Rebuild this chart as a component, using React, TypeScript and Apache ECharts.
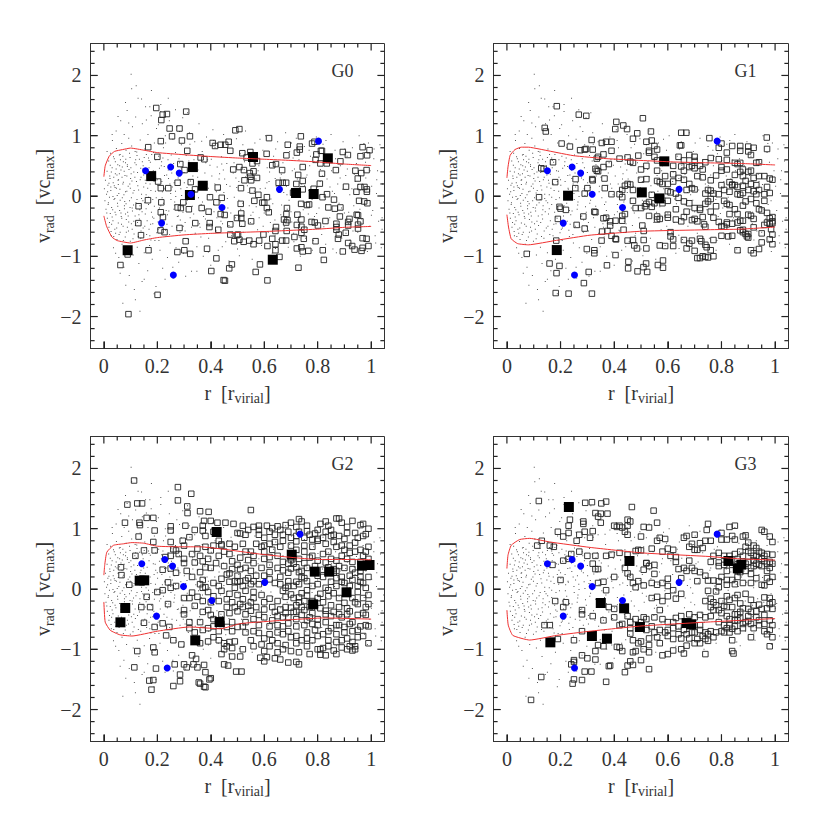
import React, { useEffect, useRef } from "react";
import * as echarts from "echarts";

type P = number[];
const panelNames = ["G0", "G1", "G2", "G3"];
const xMajor = [0, 0.2, 0.4, 0.6, 0.8, 1];
const xMinor = [0.05, 0.1, 0.15, 0.25, 0.3, 0.35, 0.45, 0.5, 0.55, 0.65, 0.7, 0.75, 0.85, 0.9, 0.95];
const yMajor = [-2, -1, 0, 1, 2];
const yMinor = [-2.4, -2.2, -1.8, -1.6, -1.4, -1.2, -0.8, -0.6, -0.4, -0.2, 0.2, 0.4, 0.6, 0.8, 1.2, 1.4, 1.6, 1.8, 2.2, 2.4];

const blue0: P[] = [[.156,.42],[.25,.48],[.282,.38],[.326,.03],[.442,-.19],[.216,-.45],[.26,-1.31],[.657,.11],[.803,.91]];
const blue1: P[] = [[.151,.42],[.243,.48],[.275,.38],[.318,.03],[.431,-.19],[.21,-.45],[.252,-1.31],[.642,.11],[.784,.91]];
const blue2: P[] = [[.142,.42],[.228,.49],[.257,.38],[.298,.04],[.404,-.19],[.197,-.45],[.237,-1.31],[.602,.11],[.734,.91]];
const blue3: P[] = [[.151,.42],[.243,.49],[.275,.38],[.318,.04],[.431,-.19],[.21,-.45],[.252,-1.31],[.642,.11],[.784,.91]];

const black0: P[] = [[.089,-.9],[.177,.33],[.333,.48],[.37,.17],[.322,.017],[.558,.647],[.632,-1.057],[.719,.05],[.785,.033],[.838,.625]];
const black1: P[] = [[.186,-.897],[.228,.005],[.503,.06],[.569,-.04],[.587,.575]];
const black2: P[] = [[.062,-.553],[.08,-.315],[.134,.138],[.151,.144],[.342,-.852],[.433,-.548],[.422,.946],[.703,.57],[.783,-.255],[.789,.288],[.843,.288],[.908,-.055],[.966,.387],[.994,.398]];
const black3: P[] = [[.162,-.885],[.231,1.36],[.35,-.232],[.437,-.32],[.457,.465],[.317,-.78],[.373,-.824],[.496,-.63],[.67,-.565],[.687,-.587],[.826,.465],[.861,.343],[.874,.404]];

const redUp0: P[] = [[0,.32],[.005,.5],[.02,.66],[.04,.74],[.07,.77],[.1,.795],[.15,.76],[.2,.72],[.3,.685],[.4,.655],[.5,.63],[.6,.61],[.7,.59],[.8,.565],[.9,.53],[1,.505]];
const redLo0: P[] = [[0,-.33],[.01,-.5],[.03,-.68],[.05,-.74],[.1,-.78],[.15,-.73],[.2,-.69],[.3,-.645],[.4,-.62],[.5,-.605],[.6,-.59],[.7,-.57],[.8,-.55],[.9,-.52],[1,-.505]];
const redUp1: P[] = [[0,.3],[.004,.48],[.012,.675],[.03,.77],[.054,.81],[.08,.81],[.12,.78],[.247,.67],[.37,.62],[.5,.59],[.62,.565],[.75,.55],[.87,.54],[1,.515]];
const redLo1: P[] = [[0,-.31],[.006,-.515],[.016,-.71],[.04,-.79],[.08,-.81],[.185,-.735],[.31,-.65],[.5,-.585],[.75,-.56],[.87,-.55],[1,-.515]];
const redUp2: P[] = [[0,.23],[.003,.39],[.011,.61],[.036,.725],[.074,.75],[.105,.77],[.149,.76],[.2,.71],[.286,.7],[.36,.7],[.448,.66],[.573,.585],[.7,.525],[.8,.49],[.885,.49],[1,.485]];
const redLo2: P[] = [[0,-.215],[.005,-.55],[.024,-.685],[.06,-.76],[.105,-.78],[.2,-.7],[.32,-.63],[.436,-.66],[.51,-.575],[.573,-.55],[.7,-.51],[.823,-.48],[1,-.5]];
const redUp3: P[] = [[0,.34],[.004,.56],[.016,.725],[.047,.82],[.085,.84],[.16,.78],[.31,.69],[.5,.6],[.62,.57],[.75,.54],[.87,.5],[1,.48]];
const redLo3: P[] = [[0,-.35],[.005,-.6],[.022,-.77],[.085,-.847],[.185,-.77],[.31,-.7],[.5,-.614],[.75,-.548],[1,-.49]];

const dots: P[] = [
[.002,.12],[.004,-.08],[.006,.26],[.008,-.22],[.01,.03],[.012,.41],[.013,-.37],[.015,.18],[.016,-.14],[.018,.58],[.019,-.52],[.021,-.02],[.022,.33],[.024,-.29],[.025,.71],[.026,.09],[.028,-.66],[.029,-.19],[.031,.47],[.032,.92],[.034,-.41],[.035,.22],[.036,-.86],[.038,-.06],[.039,.62],[.041,-.55],[.042,.14],[.043,.37],[.045,-.31],[.046,1.08],[.047,.79],[.049,-.72],[.05,.01],[.051,-.12],[.052,.52],[.054,-.45],[.055,.27],[.056,-1.02],[.058,.68],[.059,-.24],[.06,.11],[.061,-.6],[.063,1.25],[.064,.43],[.065,-.34],[.067,.87],[.068,-.8],[.069,-.03],[.071,.2],[.072,-.5],[.073,.57],[.075,-1.18],[.076,1.02],[.077,-.16],[.079,.34],[.08,-.68],[.081,.07],[.083,.76],[.084,-.39],[.085,-.92],[.087,1.42],[.088,.49],[.089,-.27],[.091,.16],[.092,-.58],[.093,.96],[.095,-1.32],[.096,-.08],[.098,.64],[.099,-.75],[.1,.29],[.102,2.02],[.103,-.46],[.104,.83],[.106,-.2],[.107,1.15],[.109,.05],[.11,-.98],[.112,.4],[.113,-.63],[.114,-1.55],[.116,.55],[.117,-.33],[.119,1.31],[.12,-.11],[.122,.24],[.123,.73],[.125,-.85],[.126,-.44],[.128,1.62],[.13,.1],[.131,-1.12],[.133,.61],[.134,-.23],[.136,.93],[.138,-.7],[.139,.31],[.141,-.04],[.143,-1.42],[.144,1.2],[.146,.45],[.147,-.53],[.149,.15],[.151,-.94],[.153,.78],[.155,-.3],[.156,1.48],[.158,.02],[.16,-.64],[.162,.36],[.164,-1.24],[.165,1.02],[.167,-.14],[.169,.59],[.171,-.82],[.173,.2],[.175,-.47],[.177,1.33],[.179,.69],[.181,-1.05],[.183,-.06],[.185,.42],[.187,-.37],[.189,.88],[.191,-.74],[.193,.08],[.195,-1.5],[.197,1.12],[.2,.27],[.203,-.55],[.205,.66],[.208,-.2],[.21,-.9],[.213,1.4],[.215,.5],[.218,-.03],[.22,-1.2],[.223,.8],[.225,-.42],[.228,.13],[.23,1],[.233,-.67],[.235,.35],[.238,-1.02],[.24,.6],[.243,-.25],[.245,1.25],[.248,-.78],[.25,.04],[.253,.46],[.255,-.5],[.258,.94],[.26,-1.36],[.263,.22],[.265,-.1],[.268,.72],[.27,-.86],[.273,1.15],[.275,-.34],[.278,.3],[.28,-1.1],[.283,.55],[.285,-.6],[.288,.12],[.29,.85],[.293,-.18],[.295,1.3],[.298,-.95],[.3,.39],[.304,-.44],[.308,.67],[.312,-.07],[.316,-.72],[.32,1.05],[.324,.25],[.328,-1.25],[.332,.52],[.336,-.3],[.34,.9],[.344,.07],[.348,-.84],[.352,.43],[.356,1.2],[.36,-.52],[.364,-.14],[.368,.74],[.372,-1],[.376,.18],[.38,-.38],[.384,.98],[.388,.6],[.392,-.7],[.396,.02],[.4,-1.15],[.404,.33],[.408,1.1],[.412,-.26],[.416,.8],[.42,-.58],[.424,.48],[.428,-.9],[.432,.1],[.436,-.1],[.44,.65],[.444,-.46],[.448,1.02],[.452,.28],[.456,-.76],[.46,.54],[.464,-.2],[.468,-1.08],[.472,.16],[.476,.86],[.48,-.62],[.484,.38],[.488,-.02],[.492,-.36],[.496,.95],[.5,-.88],[.505,.24],[.51,.7],[.515,-.5],[.52,-.12],[.525,.44],[.53,1.08],[.535,-.7],[.54,.06],[.545,.62],[.55,-.32],[.555,-1.05],[.56,.34],[.565,.88],[.57,-.18],[.575,-.56],[.58,.5],[.585,.12],[.59,-.82],[.595,.76],[.6,-.28],[.605,1],[.61,.22],[.615,-.6],[.62,.4],[.625,-.05],[.63,-.95],[.635,.66],[.64,-.4],[.645,.16],[.65,.9],[.655,-.72],[.66,.3],[.665,-.15],[.67,.55],[.675,-.5],[.68,1.05],[.685,.02],[.69,-.85],[.695,.74],[.7,-.26],[.705,.42],[.71,-.62],[.715,.1],[.72,.96],[.725,-.4],[.73,.6],[.735,-1],[.74,.2],[.745,-.1],[.75,.82],[.755,-.7],[.76,.35],[.765,-.3],[.77,.5],[.775,.05],[.78,-.9],[.785,.7],[.79,-.48],[.795,.98],[.8,.15],[.805,-.2],[.81,.44],[.815,-.64],[.82,.86],[.825,-.02],[.83,-.8],[.835,.28],[.84,.6],[.845,-.36],[.85,1.02],[.855,.08],[.86,-.55],[.865,.76],[.87,-.94],[.875,.2],[.88,-.12],[.885,.5],[.89,-.7],[.895,.9],[.9,-.28],[.905,.34],[.91,.66],[.915,-.46],[.92,.02],[.925,-.85],[.93,.8],[.935,-.16],[.94,.24],[.945,.54],[.95,-.6],[.955,1],[.96,.1],[.965,-.38],[.97,.72],[.975,-.75],[.98,.3],[.985,-.08],[.99,.88],[.995,-.5],[1.002,.16],[1.006,-.24],[1.01,.62],[1.015,-.66],[1.02,.04],[1.024,.42],[1.028,-.42],[1.033,.85],[1.038,-.86],[1.043,.2],[1.047,-.1]
];

const dotsExtra: P[] = [
[.037,.31],[.083,-.13],[.014,.07],[.121,.52],[.067,-.37],[.158,-.21],[.029,-.47],[.094,.44],[.047,.13],[.176,.09],[.011,-.28],[.139,-.58],[.058,.37],[.103,-.03],[.024,.51],[.192,.41],[.073,.23],[.044,-.62],[.127,.17],[.088,-.52],[.017,-.11],[.211,-.33],[.062,.6],[.149,.35],[.033,-.23],[.109,-.71],[.054,.19],[.167,.63],[.078,-.09],[.023,.29],[.183,-.46],[.096,.71],[.041,-.04],[.133,-.38],[.069,.48],[.152,-.11],[.027,-.59],[.116,.31],[.052,-.17],[.201,.18],[.086,.08],[.036,.65],[.172,-.66],[.064,-.28],[.124,.67],[.019,.21],[.107,-.25],[.046,.45],[.223,-.12],[.081,.55],[.141,.03],[.031,-.35],[.188,.24],[.057,-.64],[.099,.13],[.162,-.41],[.071,.66],[.242,.29],[.039,.17],[.118,-.49],[.086,.33],[.216,.57],[.021,-.44],[.147,.5],[.061,-.07],[.178,-.27],[.102,.37],[.048,-.53],[.231,-.57],[.075,.02],[.135,-.16],[.028,.4],[.196,-.03],[.091,-.33],[.256,.15],[.155,.26],[.043,.57],[.113,.09],[.206,-.74],[.066,-.47],[.169,.47],[.034,-.01],[.129,-.67],[.082,.61],[.262,-.22],[.053,.26],[.186,.72],[.106,-.55],[.241,.43],[.143,-.26],[.026,.15],[.077,-.21],[.219,.07],[.164,.13],[.097,.2],[.059,.5],[.277,.35],[.126,.39],[.042,-.27],[.198,-.61],[.084,-.6],[.251,-.06],[.153,-.5],[.111,-.15],[.068,.31],[.227,.34],[.037,-.67],[.174,.56],[.286,-.4],[.093,-.43],[.136,.27],[.056,.04],[.208,.46],[.119,.6],[.268,.08],[.081,-.3],[.159,.69],[.238,-.31],[.049,.35],[.189,-.17],[.101,.47],[.301,.22],[.146,-.08],[.073,-.74],[.221,.63],[.131,-.31],[.296,-.27],[.169,-.55],[.061,.69],[.247,.2],[.112,-.42],[.281,.62],[.194,.31],[.088,.52],[.331,-.17],[.157,.21],[.236,-.47],[.124,-.06],[.311,.14],[.076,.41],[.213,-.16],[.272,-.52],[.144,.57],[.351,.31],[.182,-.35],[.261,.54],[.098,-.19],[.323,-.36],[.229,.11],[.167,-.02],[.291,.01],[.117,.74],[.369,-.1],[.203,-.43],[.252,.68],[.138,.46],[.344,.47],[.304,-.58],[.217,.24],[.176,-.73],[.386,.2],[.264,-.15],[.105,.25],[.337,.6],[.233,-.24],[.151,.64],[.401,-.31],[.285,.27],[.194,.6],[.358,-.46],[.246,-.64],[.318,.58],[.421,.07],[.279,-.33],[.378,.38],[.207,-.53],[.438,-.42],[.306,.09],[.254,.38],[.397,.51],[.342,-.62],[.459,.19],[.226,.49],[.371,-.24],[.297,-.5],[.418,-.57],[.475,-.28],[.333,.33],[.269,-.01],[.391,.13],[.447,.43],[.309,-.12],[.354,-.03],[.494,.3],[.412,-.14],[.363,-.68],[.289,.47],[.431,.28],[.512,-.22],[.381,.55],[.328,-.52],[.468,-.49],[.402,.61],[.531,.32],[.449,.06],[.345,.16],[.548,-.44],[.423,-.36],[.487,.55],[.373,-.34],[.563,.08],[.441,.53],[.505,-.07],[.394,-.49],[.581,-.36],[.462,-.04],[.526,.57],[.415,.2],[.604,.13],[.478,-.66],[.544,-.16],[.433,.37],[.623,-.44],[.497,.14],[.569,.28],[.641,.29],[.521,-.6],[.589,-.03],[.662,-.31],[.537,.17],[.611,.47],[.683,.16],[.558,-.27],[.632,-.13],[.703,-.43],[.577,.42],[.652,.51],[.724,.28],[.596,-.5],[.673,.06],[.746,-.23],[.618,.24],[.693,-.07],[.767,.09],[.641,-.65],[.713,.45],[.788,-.34],[.664,.36],[.736,-.55],[.809,.24],[.686,-.22],[.757,.31],[.831,-.14],[.708,.63],[.779,-.06],[.852,.42],[.731,-.68],[.801,.59],[.873,-.45],[.751,.17],[.823,-.51],[.894,.11],[.773,.66],[.846,.15],[.916,-.27],[.796,-.29],[.867,.62],[.937,.36],[.818,.33],[.889,-.2],[.958,-.22],[.841,-.4],[.911,.45],[.979,.56],[.863,.04],[.932,-.58],[1.001,-.32],[.884,.3],[.953,.19],[1.021,.27],[.906,-.62],[.974,-.14],[1.041,-.36],[.928,.12],[.996,.42],
[.012,.74],[.031,1.02],[.053,1.32],[.081,1.55],[.061,-1.28],[.104,1.78],[.141,1.61],[.172,1.48],[.213,1.52],[.241,1.62],[.268,1.43],[.313,1.38],[.044,-.95],[.082,-1.48],[.118,-1.72],[.151,-1.38],[.188,-1.62],[.229,-1.38],[.258,-1.18],[.306,-1.33],[.348,-1.25],[.071,-1.78],[.135,-1.91],[.121,1.83],[.178,1.75],[.093,1.21],[.159,1.26],[.204,1.18],[.231,.88],[.283,1.07],[.322,.86],[.366,.91],[.411,.92],[.463,.8],[.52,.85],[.584,.94],[.643,.78],[.702,.88],[.768,.76],[.831,.92],[.902,.78],[.973,.87],[1.011,.78],[1.035,.58],[.391,-.93],[.443,-.84],[.507,-.99],[.573,-.77],[.642,-.87],[.711,-.76],[.783,-.74],[.857,-.88],[.921,-.73],[.986,-.92],[1.017,-.78],[1.041,-.55]
];

const sq0: P[] = [
[.196,1.46],[.22,1.35],[.236,1.36],[.215,1.26],[.308,1.4],[.246,1.12],[.283,1.12],[.255,.99],[.213,.91],[.292,.92],[.322,.99],[.166,.81],[.312,.75],[.2,.65],[.362,.64],[.376,.61],[.286,.53],[.302,.43],[.276,.22],[.325,.23],[.203,.24],[.213,.13],[.241,.13],[.341,.11],[.165,-.07],[.13,-.17],[.215,-.105],[.213,-.27],[.221,-.35],[.129,-.45],[.139,-.65],[.212,-.57],[.227,-.6],[.283,-.53],[.276,-.19],[.288,-.2],[.297,-.105],[.318,-.22],[.366,-.2],[.392,-.26],[.397,-.02],[.426,.14],[.441,-.03],[.421,-.105],[.437,-.3],[.452,-.315],[.342,-.45],[.396,-.45],[.395,-.515],[.428,-.56],[.473,-.47],[.306,-.75],[.386,-.875],[.275,-.93],[.301,-.9],[.323,-.96],[.421,-1.035],[.062,-1.145],[.089,-.97],[.167,-.9],[.402,-1.245],[.469,-1.2],[.479,-1.135],[.448,-1.395],[.453,-1.405],[.201,-1.64],[.092,-1.96],
[.407,.88],[.416,.83],[.437,.85],[.454,.85],[.467,.9],[.473,.75],[.492,1.09],[.507,1.11],[.518,.71],[.534,.64],[.548,.73],[.556,.54],[.573,.58],[.484,.44],[.507,.48],[.524,.43],[.546,.38],[.548,.32],[.56,.41],[.526,.26],[.551,.26],[.573,.3],[.513,.13],[.556,.09],[.578,.02],[.563,-.08],[.512,-.13],[.593,-.11],[.6,-.11],[.61,-.02],[.61,-.2],[.617,-.27],[.514,-.29],[.514,-.365],[.498,-.365],[.518,-.46],[.551,-.42],[.473,-.64],[.498,-.65],[.502,-.64],[.507,-.725],[.488,-.75],[.523,-.76],[.544,-.74],[.56,-.8],[.581,-.74],[.597,-.64],[.609,.7],[.618,.96],[.63,.51],[.644,.53],[.667,.43],[.654,.22],[.669,.22],[.682,.22],[.683,.675],[.688,.85],[.722,.72],[.733,.82],[.733,.77],[.737,.99],[.779,.87],[.788,.9],[.744,.48],[.727,.35],[.72,.2],[.744,.25],[.744,.11],[.76,-.15],[.738,-.13],[.685,-.2],[.683,-.3],[.674,-.39],[.687,-.4],[.724,-.31],[.739,-.39],[.722,-.48],[.739,-.51],[.75,-.56],[.739,-.61],[.682,-.44],[.684,-.58],[.642,-.58],[.644,-.515],[.63,-.71],[.667,-.74],[.682,-.74],[.713,-.68],[.748,-.71],[.792,-.75],[.612,-.83],[.642,-.8],[.642,-.9],[.657,-1.01],[.584,-1.135],[.568,-1.26],[.612,-1.4],[.722,-.87],[.739,-.85],[.744,-.92],[.765,-.91],[.728,-1.19],[.819,-.9],[.823,-1.06],[.777,-.43],[.789,-.44],[.801,-.49],[.829,-.415],[.87,-.46],[.87,-.515],[.87,-.56],[.879,-.64],[.876,-.71],[.905,-.61],[.914,-.43],[.914,-.49],[.946,-.31],[.951,-.32],[.951,-.475],[.951,-.54],[.96,-.42],[.914,-.78],[.929,-.83],[.938,-.89],[.894,-.92],[.964,-.91],[.968,-.86],[.968,-.7],[.983,-.71],[.99,-.83],[.885,-.19],[.883,-.34],[.864,-.21],[.861,-.06],[.84,-.19],[.818,-.02],[.835,.03],[.808,.205],[.816,.37],[.834,.54],[.868,.43],[.885,.575],[.894,.73],[.913,.68],[.96,.66],[.985,.675],[.994,.76],[.968,.81],[.941,.42],[.963,.38],[.983,.43],[.95,.29],[.906,.155],[.945,.07],[.96,.15],[.975,.15],[.984,.11],[.984,.07],[.955,-.08],[.974,-.09],[.986,-.12],[.919,-.38],[.795,.69],[.816,.75],[.812,.75],[.792,.6],[.81,.54],[.708,.055],[.724,.05],[.785,.12],[.768,-.14]
];

const sq1: P[] = [
[.186,1.49],[.268,1.35],[.296,1.33],[.141,1.13],[.145,1.07],[.204,.87],[.235,.82],[.408,1.23],[.404,1.11],[.434,1.17],[.448,1.11],[.507,1.29],[.486,1.04],[.537,1.07],[.65,1.05],[.669,1.05],[.755,.96],[.969,.97],[.074,-.96],[.159,-1.12],[.196,-1.16],[.185,-1.28],[.287,-1.445],[.182,-1.61],[.23,-1.62],[.317,-1.62],[.305,-1.26],[.373,-1.15],[.453,-1.09],[.452,-1.2],[.487,-1.25],[.509,-1.18],[.519,-1.12],[.523,-1.26],[.563,-1.145],[.582,-1.07],[.582,-1.19],
[.128,.46],[.137,.45],[.172,.56],[.18,.23],[.12,-.02],[.196,-.18],[.2,-.21],[.22,-.23],[.19,-.38],[.184,-.74],[.256,.28],[.255,.13],[.29,.04],[.3,.13],[.318,.28],[.32,.26],[.34,.65],[.32,.77],[.316,.93],[.273,.76],[.29,.77],[.295,.78],[.354,.88],[.37,.9],[.39,.9],[.39,.75],[.36,.69],[.335,.62],[.33,.45],[.335,.42],[.34,.41],[.36,.48],[.38,.53],[.364,.29],[.365,.13],[.39,.03],[.43,.1],[.44,.17],[.45,.2],[.46,.19],[.43,-.02],[.42,.03],[.326,-.26],[.33,-.27],[.285,-.34],[.29,-.54],[.26,-.48],[.36,-.37],[.37,-.36],[.385,-.42],[.385,-.49],[.405,-.41],[.43,-.41],[.43,-.33],[.44,-.3],[.435,-.56],[.355,-.59],[.353,-.74],[.375,-.58],[.39,-.66],[.405,-.71],[.407,-.72],[.298,-.88],[.326,-.9],[.326,-.95],[.405,-.98],[.45,-.74],[.47,-.73],[.475,-.82],[.485,-.87],[.52,-.87],[.51,-.58],[.51,-.73],[.505,-.49],
[.42,.62],[.45,.64],[.46,.57],[.47,.55],[.49,.67],[.47,.95],[.52,.9],[.54,.92],[.55,.83],[.53,.75],[.53,.72],[.56,.77],[.55,.65],[.56,.59],[.52,.5],[.5,.44],[.56,.42],[.58,.57],[.52,.28],[.56,.25],[.57,.23],[.58,.2],[.6,.2],[.62,.24],[.47,-.08],[.5,-.2],[.48,-.2],[.515,-.17],[.52,-.13],[.53,-.1],[.54,-.18],[.55,-.12],[.53,-.33],[.56,-.34],[.56,-.39],[.57,-.38],[.6,-.31],[.6,-.36],[.63,-.39],[.65,-.42],[.65,.49],[.64,.3],[.66,.27],[.62,.5],[.65,.84],[.645,.84],[.68,.68],[.7,.65],[.69,.5],[.68,.48],[.7,.46],[.72,.5],[.74,.56],[.73,.44],[.71,.33],[.73,.31],[.68,.2],[.69,.13],[.7,.11],[.67,.1],[.6,.08],[.61,.06],[.63,.04],[.64,-.03],[.66,-.09],[.68,-.12],[.67,-.26],[.7,-.2],[.72,-.2],[.74,-.13],[.75,-.09],[.76,-.05],[.75,.1],[.76,.09],[.74,.04],[.77,.04],[.79,.03],[.72,-.23],[.69,-.4],[.7,-.38],[.71,-.42],[.735,-.47],[.74,-.51],[.77,-.36],[.79,-.43],[.8,-.5],[.81,-.51],
[.61,-.6],[.61,-.67],[.62,-.72],[.66,-.73],[.62,-.83],[.57,-.82],[.59,-.83],[.68,-.79],[.67,-.87],[.69,-.74],[.72,-.71],[.725,-.75],[.74,-.81],[.745,-.85],[.7,-.91],[.71,-1.03],[.72,-1.03],[.73,-1],[.74,-1.01],[.75,-1.02],[.77,-1],[.76,-.9],[.77,-.73],[.8,-.66],[.825,-.67],[.84,-.66],[.86,-.9],[.91,-.9],[.92,-.95],[.94,-.88],[.95,-.77],[.99,-.8],[.98,-.72],[.95,-.62],[.99,-.64],
[.79,.61],[.82,.6],[.85,.55],[.86,.53],[.87,.55],[.8,.48],[.8,.42],[.82,.44],[.85,.35],[.87,.4],[.88,.44],[.9,.4],[.91,.42],[.88,.33],[.89,.25],[.91,.2],[.93,.18],[.83,.23],[.84,.19],[.85,.18],[.86,.03],[.87,.02],[.88,.05],[.89,-.09],[.92,.08],[.93,.03],[.96,.03],[.98,.05],[.97,.15],[.98,.29],[.99,.27],[.96,.33],[.94,.56],[.93,.55],[.92,.8],[.9,.82],[.87,.83],[.84,.83],[.8,.87],[.79,.8],[.97,.78],[.9,.74],[.91,.68],[.84,.18],[.81,-.08],[.82,-.13],[.83,-.15],[.85,-.22],[.86,-.3],[.88,-.16],[.9,-.31],[.91,-.33],[.92,-.38],[.94,-.22],[.95,-.24],[.97,-.28],[.99,-.35],[.98,-.37],[.99,-.42],[.98,-.46],[.97,-.44],[.99,-.45],[.96,-.48],[.985,-.55],[.92,-.52],[.88,-.41],[.87,-.41],[.86,-.44],[.84,-.46],[.82,-.47],[.88,-.56],[.88,-.6],[.89,-.63],[.9,-.63],[.9,-.69],[.895,-.67],[.87,-.57],[.82,-.44],[.83,-.3],
[.47,.1],[.54,.02],[.5,.27],[.59,.33],[.62,.36],[.66,.42],[.76,.26],[.78,.34],[.8,.18],[.81,.1],[.83,.07],[.9,.1],[.94,.1],[.96,-.08],[.93,-.12],[.91,-.05],[.78,-.17],[.76,-.26],[.73,-.35],[.66,-.35],[.63,-.22],[.6,-.08],[.58,-.12],[.56,-.05],[.86,.15],[.88,.17],[.94,.33],[.92,.3],[.87,.75],[.82,.72],[.76,.63],[.7,.58],[.66,.59],[.64,.65]
];

const sq2: P[] = [
[.113,1.8],[.277,1.69],[.327,1.58],[.277,1.47],[.088,1.4],[.125,1.42],[.143,1.42],[.312,1.37],[.313,1.26],[.079,1.1],[.133,1.1],[.135,1.06],[.16,1.18],[.185,1.18],[.36,1.29],[.392,1.28],[.55,1.31],[.13,.87],[.19,.97],[.25,.97],[.25,1.04],[.305,1.05],[.375,1.13],[.4,1.13],[.425,1.1],[.455,1.1],[.485,1.08],[.37,1.05],[.37,.97],[.295,.8],[.32,.86],[.25,.78],[.185,.78],[.19,.64],[.15,.64],[.118,.55],[.064,.36],[.066,.23],[.095,.07],[.2,-.05],[.16,-.13],[.14,-.3],[.173,-.3],[.15,-.56],[.19,-.63],[.22,-.57],[.245,-.63],[.233,-.77],[.26,-.85],[.29,-.92],[.185,-.97],[.125,-1.03],[.19,-1.05],[.195,-1.32],[.114,-1.3],[.17,-1.52],[.185,-1.51],[.178,-1.67],[.26,-1.61],[.285,-1.53],[.285,-1.42],[.31,-1.3],[.3,-1.25],[.265,-1.25],[.335,-1.25],[.33,-1.1],[.345,-1.16],[.35,-1.3],[.375,-1.26],[.38,-1.38],[.355,-1.55],[.36,-1.57],[.375,-1.62],[.38,-1.63],[.395,-1.5],[.4,-1.48],[.45,-1.25],[.465,-1.27],[.495,-1.37],[.515,-1.37],[.48,-1.12],[.44,-1.08],[.51,-1.12],[.585,-1.14],[.61,-1.13],[.64,-1.15],[.6,-1.2],[.66,-1.17],[.69,-1.22],[.72,-1.21],[.73,-1.25],[.73,-1.05],[.77,-1.08],[.8,-1],[.82,-.98],[.81,-1],[.81,-1.09],[.83,-1.1],[.87,-1.08],[.89,-.97],[.91,-1],[.93,-1.02],[.94,-.95],[.94,-1],
[.23,.53],[.22,.32],[.25,.34],[.25,.55],[.27,.64],[.26,.66],[.3,.5],[.3,.43],[.34,.44],[.31,.3],[.27,.27],[.24,.11],[.27,.05],[.25,.02],[.22,-.02],[.24,-.25],[.3,-.15],[.32,-.15],[.3,-.35],[.33,-.06],[.35,-.13],[.37,.02],[.38,.03],[.37,.15],[.36,.28],[.4,.35],[.38,.36],[.39,.5],[.42,.43],[.36,.55],[.35,.67],[.4,.64],[.44,.72],[.44,.74],[.47,.58],[.48,.46],[.5,.4],[.47,.26],[.47,.12],[.49,.13],[.5,.12],[.51,.13],[.53,.14],[.55,.3],[.56,.43],[.6,.5],[.62,.53],[.55,.62],[.57,.75],[.58,.9],[.6,.85],[.56,1.03],[.58,1.05],[.61,1.05],[.65,1.04],[.68,1.06],[.7,1.1],[.74,1.12],[.73,1.16],[.76,1.05],[.72,1.03],[.63,1.01],[.52,1.05],[.5,.93],[.51,.92],[.53,.9],[.64,.9],[.67,.8],[.62,.75],[.7,.72],[.72,.79],[.75,.72],[.78,.7],[.8,.83],[.8,.8],[.83,.75],[.85,.88],[.84,1.05],[.87,1.17],[.88,1.17],[.89,1.1],[.91,1.03],[.93,1.13],[.96,1.06],[.97,1.08],[.99,1],[.98,.91],[.97,.88],[.99,.7],[.96,.65],[.92,.72],[.9,.83],[.88,.88],[.86,.9],[.83,1.12],[.81,1.08],[.95,.85],[.94,.77],
[.3,-.42],[.32,-.55],[.36,-.55],[.37,-.38],[.39,-.35],[.4,-.43],[.41,-.62],[.39,-.65],[.41,-.8],[.39,-.87],[.36,-.9],[.45,-.9],[.46,-.95],[.47,-.88],[.49,-.87],[.43,-.7],[.48,-.7],[.53,-.72],[.55,-.85],[.58,-.73],[.6,-.82],[.62,-.95],[.65,-.9],[.67,-1],[.7,-1.03],[.72,-.9],[.7,-.8],[.67,-.75],[.74,-.85],[.78,-.85],[.84,-.85],[.87,-.88],[.89,-.85],[.91,-.82],[.76,-.72],[.79,-.68],[.82,-.75],[.85,-.65],[.88,-.6],[.9,-.63],[.92,-.58],[.96,-.62],[.98,-.6],[.99,-.62],[.97,-.78],[.99,-.9],[.95,-.68],[.93,-.55],[.95,-.43],[.98,-.43],[.98,-.3],[.95,-.25],[.92,-.37],[.89,-.47],[.86,-.38],[.83,-.42],[.8,-.5],[.77,-.47],[.74,-.43],[.72,-.5],[.69,-.57],[.65,-.6],[.62,-.62],[.67,-.47],[.7,-.31],[.73,-.22],[.75,-.2],[.77,-.3],[.72,-.27],[.68,-.3],[.64,-.38],[.6,-.34],[.57,-.3],[.55,-.22],[.52,-.17],[.5,-.1],[.47,-.08],[.44,-.03],[.43,.05],[.41,.1],[.44,.17],[.46,.24],[.49,.02],[.52,-.3],[.55,-.36],[.58,-.43],[.6,-.47],[.63,-.52],[.53,-.55],[.5,-.63],[.46,-.63],[.44,-.42],[.47,-.4],[.5,-.37],
[.54,.18],[.56,.13],[.58,.08],[.6,.22],[.62,.16],[.64,.1],[.66,.08],[.68,.02],[.66,.2],[.69,.27],[.67,.31],[.7,.34],[.72,.36],[.74,.2],[.76,.13],[.73,.08],[.71,.05],[.69,.13],[.65,.35],[.62,.28],[.67,.45],[.7,.48],[.73,.5],[.75,.43],[.77,.52],[.8,.47],[.83,.44],[.85,.5],[.87,.47],[.89,.55],[.91,.5],[.93,.45],[.88,.38],[.86,.33],[.82,.2],[.85,.12],[.8,.08],[.78,.05],[.76,-.02],[.74,-.07],[.71,-.15],[.68,-.13],[.65,-.2],[.62,-.16],[.59,-.1],[.56,-.05],[.53,-.03],[.83,.02],[.86,-.07],[.88,-.15],[.9,-.23],[.93,-.15],[.95,.05],[.97,.1],[.99,.2],[.96,.2],[.93,.15],[.9,.1],[.87,.18],[.84,-.12],[.8,-.15],[.82,-.22],[.85,-.27],[.88,-.3],[.91,-.32],[.78,.55],[.75,.62],[.72,.65],[.7,.85],[.77,.9],[.79,.92],[.83,.95],[.87,.7],[.9,.65],[.94,.62],[.97,.55],[.99,.5],[.96,.3],[.94,.27],[.92,.22],[.89,.2],[.86,.27],[.82,.32],[.79,.38],[.76,.35],[.74,.3],[.84,.62],[.82,.58],[.69,.42],[.65,.55],[.62,.4],[.59,.35],[.57,.22],[.55,.08],[.52,.05],[.5,.22],[.53,.35],[.51,.52],[.47,.75],[.49,.7],[.53,.62],[.59,.7],[.6,.62],[.63,.65],[.66,.7],[.69,.95],[.66,.98],[.73,.95],[.91,.93],[.94,.93],[.75,-.35],[.78,-.4],[.81,-.32],[.83,-.55],[.87,-.6],[.72,-.62],[.75,-.6],[.78,-.58],[.67,-.62],[.62,-.75],[.58,-.6],[.56,-.5],[.53,-.42],[.49,-.3],[.46,-.17],[.43,-.2],[.4,-.22],[.37,-.2],[.34,-.28],[.32,-.65],
[.71,.42],[.73,.28],[.75,.18],[.72,.12],[.69,.05],[.67,-.03],[.7,-.09],[.73,-.14],[.76,-.11],[.78,-.2],[.74,-.3],[.71,-.38],[.68,-.4],[.66,-.34],[.81,-.08],[.84,-.02],[.87,.05],[.89,.12],[.92,.05],[.95,-.05],[.97,-.15],[.99,-.1],[.98,.02],[.94,-.22],[.91,-.42],[.88,-.42],[.85,-.45],[.83,-.36],[.79,-.27],[.8,.22],[.84,.36],[.87,.3],[.9,.35],[.93,.33],[.96,.12],[.92,.6],[.89,.72],[.86,.78],[.82,.85],[.78,.82],[.75,.85],[.72,.88],[.67,.9],[.64,.78],[.6,.72],[.56,.55],[.54,.48],[.51,.33],[.48,.33],[.45,.38],[.43,.55],[.41,.72],[.38,.7],[.37,.46],[.33,.2],[.36,.08],[.39,-.05],[.41,-.12],[.46,-.3],[.48,-.22],[.51,-.25],[.54,-.28],[.56,-.15],[.6,-.22],[.63,-.3],[.65,-.45],[.69,-.47],[.72,-.38],[.76,-.52],[.8,-.6],[.84,-.7],[.87,-.75],[.9,-.72],[.93,-.7],[.95,-.8],[.93,-.88],[.8,-.78],[.76,-.82],[.72,-.78],[.69,-.7],[.65,-.72],[.63,-.85],[.59,-.92],[.56,-.7],[.52,-.62],[.48,-.55],[.44,-.58],[.41,-.5],[.37,-.68],[.34,-.72],[.43,-.85],[.45,-1],[.48,-.98],[.52,-1],[.56,-.95],[.6,-1.03],[.65,-1.05],[.68,-.93],[.76,-.95],[.84,-.95],[.86,-1.02],[.92,-.95],[.97,-.4],[.99,-.25],[.96,.45],[.98,.62],[.85,.98],[.8,.98],[.76,.96],[.62,.95],[.58,.98],[.54,.98],[.52,.75],[.45,.62],[.43,.8],[.41,.95],[.38,.88],[.34,.98],[.3,.72],[.28,.58],[.33,.58]
];

const sq3: P[] = [
[.119,1.46],[.292,1.43],[.317,1.44],[.352,1.42],[.37,1.45],[.466,1.36],[.547,1.3],[.33,1.26],[.35,1.25],[.375,1.25],[.235,1.15],[.23,1.05],[.285,1.12],[.285,1.08],[.34,1.2],[.35,1.1],[.4,1.05],[.41,1.03],[.42,1.05],[.45,1.15],[.46,1.12],[.45,1.05],[.43,1.02],[.51,1.03],[.53,1.02],[.56,1.1],[.23,.93],[.21,.87],[.19,.95],[.27,.9],[.29,.95],[.26,.8],[.32,.96],[.31,.85],[.13,.8],[.113,.72],[.16,.72],[.175,.7],[.24,.58],[.27,.62],[.21,.47],[.23,.5],[.17,.4],[.3,.55],[.33,.55],[.37,.55],[.39,.57],[.32,.42],[.33,.33],[.34,.33],[.2,.15],[.34,.1],[.36,.12],[.37,-.02],[.4,.2],[.46,.2],[.47,.1],[.48,.03],[.18,-.2],[.21,-.3],[.22,-.22],[.28,-.35],[.28,-.42],[.32,-.45],[.36,-.52],[.38,-.3],[.4,-.33],[.4,-.47],[.45,-.45],[.43,-.58],[.42,-.6],[.14,-.6],[.16,-.6],[.19,-.83],[.28,-.7],[.34,-.93],[.25,-.85],[.33,-1.03],[.28,-1.1],[.25,-1.18],[.3,-1.15],[.24,-1.25],[.25,-1.21],[.33,-1.17],[.38,-1.28],[.385,-1.27],[.29,-1.37],[.315,-1.37],[.44,-1.38],[.25,-1.5],[.245,-1.57],[.28,-1.51],[.37,-1.54],[.128,-1.46],[.09,-1.84],[.45,-1.27],[.46,-1.2],[.47,-1.26],[.53,-1.33],[.5,-1.18],[.47,-1.05],[.48,-1.03],[.42,-.97],[.41,-.96],[.43,-1.03],[.36,-.95],
[.44,.95],[.45,.9],[.5,.87],[.57,.85],[.56,.8],[.59,.83],[.54,.67],[.48,.63],[.49,.65],[.5,.64],[.45,.57],[.42,.6],[.52,.43],[.51,.32],[.52,.43],[.53,.38],[.55,.4],[.44,.35],[.45,.26],[.49,.13],[.51,.06],[.54,.1],[.56,.07],[.58,.1],[.6,.17],[.6,.05],[.55,.25],[.58,.62],[.6,.67],[.62,.65],[.61,.55],[.63,.45],[.63,.53],[.64,.33],[.65,.18],[.7,.3],[.67,.3],[.69,.35],[.68,.47],[.66,.35],[.66,.85],[.7,.9],[.67,.88],[.69,.75],[.72,.76],[.74,.8],[.76,.8],[.75,1.08],[.745,.98],[.8,.93],[.83,1.03],[.85,1.05],[.84,.88],[.8,.82],[.82,.82],[.85,.82],[.88,.87],[.89,.89],[.95,.98],[.96,.95],[.98,.87],[.99,.78],[.71,.65],[.73,.68],[.68,.7],[.7,.65],[.79,.6],[.77,.55],[.76,.45],[.79,.44],[.81,.4],[.72,.28],[.74,.22],[.71,.13],[.75,.14],[.77,.14],[.79,.13],[.8,.2],[.82,.15],[.84,.15],[.86,.2],[.85,.08],[.82,.07],[.79,.03],[.78,-.04],[.75,-.03],[.74,-.2],[.76,-.16],[.78,-.27],[.79,-.35],[.81,-.28],[.82,-.3],[.83,-.18],[.85,-.15],[.86,-.1],[.89,-.08],[.91,-.18],[.92,-.27],[.94,-.26],[.96,-.14],[.98,-.15],[.99,-.22],[.97,-.32],[.99,-.33],[.98,-.25],
[.9,.77],[.92,.72],[.93,.68],[.91,.6],[.95,.6],[.97,.58],[.99,.57],[.9,.45],[.88,.55],[.92,.48],[.94,.4],[.95,.38],[.97,.42],[.98,.45],[.96,.55],[.93,.55],[.89,.3],[.91,.25],[.93,.18],[.95,.07],[.96,.06],[.98,.12],[.99,.2],[.97,.18],[.91,.1],[.88,.1],[.86,.3],[.79,.38],[.82,.3],[.85,.58],[.87,.62],[.9,.63],[.89,.7],
[.58,-.2],[.56,-.13],[.54,-.15],[.6,-.12],[.63,-.16],[.65,-.08],[.62,-.02],[.57,-.35],[.55,-.47],[.52,-.5],[.51,-.47],[.48,-.5],[.5,-.55],[.46,-.55],[.46,-.65],[.46,-.74],[.47,-.85],[.49,-.9],[.5,-.87],[.53,-.82],[.56,-.8],[.57,-.9],[.55,-.72],[.59,-.72],[.6,-.78],[.62,-.65],[.62,-.83],[.65,-.82],[.67,-.75],[.69,-.72],[.71,-.83],[.73,-.78],[.74,-.72],[.74,-.83],[.75,-.86],[.77,-.8],[.75,-.75],[.72,-.9],[.7,-.9],[.67,-.94],[.65,-1],[.66,-1.07],[.62,-1.02],[.6,-1.08],[.58,-1.1],[.74,-1.08],[.53,-1.05],[.53,-.93],[.51,-1],
[.65,-.45],[.63,-.48],[.68,-.42],[.7,-.47],[.72,-.43],[.74,-.47],[.76,-.45],[.77,-.35],[.8,-.4],[.82,-.45],[.85,-.42],[.87,-.38],[.9,-.45],[.93,-.47],[.96,-.43],[.79,-.55],[.82,-.65],[.84,-.66],[.86,-.7],[.85,-.62],[.88,-.65],[.91,-.58],[.94,-.6],[.96,-.7],[.97,-.75],[.99,-.8],[.98,-.68],[.99,-.6],[.91,-.8],[.98,-.95],[.84,-1.03],[.845,-1.07],[.84,-.85],[.8,-.7],[.78,-.72],[.81,-.72],[.83,-.72],[.86,-.52],[.88,-.58],[.9,-.53],[.7,-.6],[.72,-.6],[.64,-.62],[.62,-.55],[.6,-.55],[.58,-.5],[.8,-.2],[.82,-.12],[.87,-.24],[.9,-.33],[.93,-.37],[.95,-.33],[.76,-.3],[.77,-.22],
[.84,-.3],[.86,-.42],[.88,-.32],[.91,-.38],[.83,-.5],[.85,-.52],[.87,-.48],[.81,-.6],[.83,-.6],[.89,-.55],[.92,-.65],[.94,-.52],[.96,-.58],[.98,-.52],[.87,.28],[.89,.42],[.91,.35],[.92,.55],[.94,.62],[.95,.5],[.96,.46],[.97,.3],[.98,.35],[.99,.42],[.93,.42],[.92,.38],[.84,.4],[.83,.55],[.81,.55],[.86,.5],[.88,.42],[.66,-.68],[.68,-.82],[.7,-.72],[.72,-.68],[.76,-.7],[.64,-.75],[.6,-.68],[.57,-.68],[.54,-.62],[.52,-.68]
];

const squaresByPanel = [sq0, sq1, sq2, sq3];
const blackByPanel = [black0, black1, black2, black3];
const blueByPanel = [blue0, blue1, blue2, blue3];
const redUpByPanel = [redUp0, redUp1, redUp2, redUp3];
const redLoByPanel = [redLo0, redLo1, redLo2, redLo3];

const FONT = "Liberation Serif";
const INK = "#222222";
const X_MIN = -0.05;
const X_MAX = 1.05;
const Y_MIN = -2.53;
const Y_MAX = 2.53;
const MAJOR_LEN = 7;
const MINOR_LEN = 4;
const TICK_W = 1.2;
const grids = [
  { left: 90.5, top: 43.5, width: 294, height: 305 },
  { left: 493.5, top: 43.5, width: 295, height: 305 },
  { left: 90.5, top: 436.5, width: 294, height: 305 },
  { left: 493.5, top: 436.5, width: 295, height: 305 },
];

const fmt = (v: number) => String(v).replace("-", "\u2212");

// Tick marks are thin rect symbols anchored just inside the frame through the chart's scales.
const EDGE_X = 0.0005;
const EDGE_Y = 0.002;
const ticks: any[] = [];
const addXTick = (v: number, len: number) => {
  ticks.push({ value: [v, Y_MIN + EDGE_Y], symbol: "rect", symbolSize: [TICK_W, len], symbolOffset: [0, -len / 2] });
  ticks.push({ value: [v, Y_MAX - EDGE_Y], symbol: "rect", symbolSize: [TICK_W, len], symbolOffset: [0, len / 2] });
};
const addYTick = (v: number, len: number) => {
  ticks.push({ value: [X_MIN + EDGE_X, v], symbol: "rect", symbolSize: [len, TICK_W], symbolOffset: [len / 2, 0] });
  ticks.push({ value: [X_MAX - EDGE_X, v], symbol: "rect", symbolSize: [len, TICK_W], symbolOffset: [-len / 2, 0] });
};
xMajor.forEach((v) => addXTick(v, MAJOR_LEN));
xMinor.forEach((v) => addXTick(v, MINOR_LEN));
yMajor.forEach((v) => addYTick(v, MAJOR_LEN));
yMinor.forEach((v) => addYTick(v, MINOR_LEN));

const titleStyle = {
  rich: {
    a: { fontFamily: FONT, fontSize: 20, color: "#333333" },
    b: { fontFamily: FONT, fontSize: 14, color: "#333333", padding: [12, 0, 0, 0] },
  },
};

export default function App() {
  const ref = useRef<HTMLDivElement>(null);
  useEffect(() => {
    if (!ref.current) return;
    const chart = echarts.init(ref.current, undefined, { renderer: "svg" });
    const xAxis: any[] = [];
    const yAxis: any[] = [];
    const series: any[] = [];
    panelNames.forEach((panel, i) => {
      const label = { formatter: fmt, fontFamily: FONT, fontSize: 20, color: "#333333" };
      xAxis.push({
        type: "value", gridIndex: i, min: X_MIN, max: X_MAX, position: "bottom",
        splitLine: { show: false },
        axisTick: { show: true, inside: true, length: MAJOR_LEN, customValues: xMajor, lineStyle: { color: INK, width: 1 } },
        axisLine: { show: true, onZero: false, lineStyle: { color: "#333333", width: 1 } },
        axisLabel: { ...label, customValues: xMajor, margin: 7 },
        name: "{a|r  [r}{b|virial}{a|]}", nameLocation: "middle", nameGap: 31, nameTextStyle: titleStyle,
      });
      yAxis.push({
        type: "value", gridIndex: i, min: Y_MIN, max: Y_MAX, position: "left",
        splitLine: { show: false },
        axisTick: { show: true, inside: true, length: MAJOR_LEN, customValues: yMajor, lineStyle: { color: INK, width: 1 } },
        axisLine: { show: true, onZero: false, lineStyle: { color: "#333333", width: 1 } },
        axisLabel: { ...label, customValues: yMajor, margin: 9 },
        name: "{a|v}{b|rad}{a|  [vc}{b|max}{a|]}", nameLocation: "middle", nameRotate: 90, nameGap: 28, nameTextStyle: titleStyle,
      });
      const axes = { xAxisIndex: i, yAxisIndex: i };
      series.push({
        type: "scatter", ...axes, name: panel + " dots", data: dots.concat(dotsExtra), symbol: "rect", symbolSize: 1,
        itemStyle: { color: "#555555", opacity: 1 }, silent: true,
      });
      series.push({
        type: "scatter", ...axes, name: panel + " subhalos", data: squaresByPanel[i], symbol: "rect", symbolSize: 5.5,
        itemStyle: { color: "transparent", borderColor: "#222222", borderWidth: 0.9, opacity: 1 }, silent: true,
      });
      [redUpByPanel[i], redLoByPanel[i]].forEach((curve) => {
        series.push({
          type: "line", ...axes, data: curve, symbol: "none", smooth: 0.15,
          lineStyle: { color: "#f03030", width: 1 }, silent: true,
        });
      });
      series.push({
        type: "scatter", ...axes, name: panel + " massive", data: blackByPanel[i], symbol: "rect", symbolSize: 10,
        itemStyle: { color: "#000000", opacity: 1 }, silent: true,
      });
      series.push({
        type: "scatter", ...axes, name: panel + " satellites", data: blueByPanel[i], symbol: "circle", symbolSize: 7,
        itemStyle: { color: "#0000ff", opacity: 1 }, silent: true,
      });
      series.push({
        type: "scatter", ...axes, name: panel + " ticks", data: ticks, symbol: "rect", z: 10, clip: false,
        itemStyle: { color: INK, opacity: 1 }, silent: true,
      });
    });
    chart.setOption({
      animation: false,
      backgroundColor: "#ffffff",
      grid: grids.map((g) => ({ ...g, containLabel: false, show: true, borderColor: "#333333", borderWidth: 1, backgroundColor: "transparent" })),
      xAxis,
      yAxis,
      series,
      graphic: panelNames.map((panel, i) => ({
        type: "text",
        x: grids[i].left + 241,
        y: grids[i].top + 18,
        style: { text: panel, fontFamily: FONT, fontSize: 18, fill: "#333333" },
        silent: true,
      })),
    });
    return () => chart.dispose();
  }, []);
  return (
    <div
      ref={ref}
      style={{ position: "absolute", left: 0, top: 0, width: 830, height: 830, background: "#fff" }}
    />
  );
}
